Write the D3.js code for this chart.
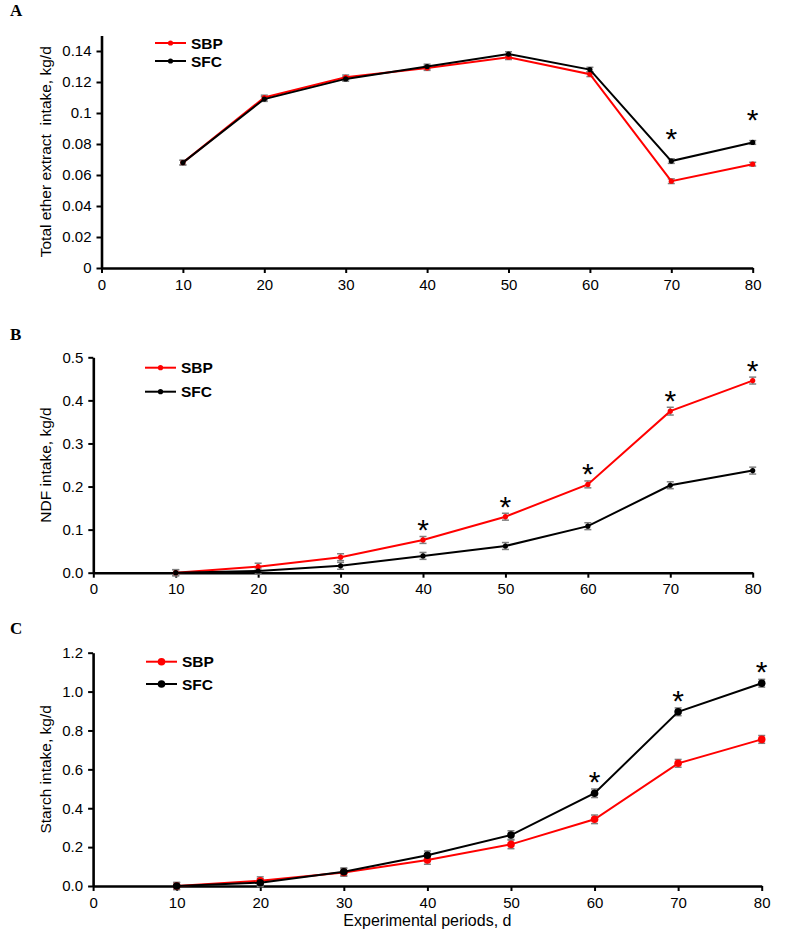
<!DOCTYPE html>
<html><head><meta charset="utf-8">
<script src="https://cdn.jsdelivr.net/npm/d3@7"></script>
<style>
body{margin:0;background:#fff;}
svg text{font-family:"Liberation Sans",Arial,sans-serif;}
</style></head>
<body><svg id="c" width="787" height="936"></svg>
<script>
const days = [10,20,30,40,50,60,70,80];
const xTicks = [0,10,20,30,40,50,60,70,80];
const seriesNames = ["SBP","SFC"];
const seriesColors = ["#ff0000","#000000"];

// Panel A: total ether extract intake
const eeSBP = [0.068,0.110,0.123,0.129,0.136,0.125,0.056,0.067];
const eeSFC = [0.068,0.109,0.122,0.130,0.138,0.128,0.069,0.081];
const eeSBPerr = [0.0015,0.0015,0.0015,0.0015,0.0015,0.0015,0.0015,0.0012];
const eeSFCerr = [0.0015,0.0015,0.0015,0.0015,0.0015,0.0015,0.0015,0.0012];
const eeTicks = [0,0.02,0.04,0.06,0.08,0.1,0.12,0.14];
const eeTickLabels = ["0","0.02","0.04","0.06","0.08","0.1","0.12","0.14"];
const eeStars = [70,80]; // above SFC

// Panel B: NDF intake
const ndfSBP = [0.000,0.014,0.036,0.076,0.130,0.205,0.375,0.446];
const ndfSFC = [0.000,0.004,0.016,0.039,0.062,0.108,0.203,0.237];
const ndfSBPerr = [0.007,0.008,0.008,0.008,0.008,0.008,0.009,0.008];
const ndfSFCerr = [0.007,0.007,0.008,0.008,0.008,0.008,0.008,0.008];
const ndfTicks = [0,0.1,0.2,0.3,0.4,0.5];
const ndfTickLabels = ["0.0","0.1","0.2","0.3","0.4","0.5"];
const ndfStars = [40,50,60,70,80]; // above SBP

// Panel C: starch intake
const stSBP = [0.000,0.027,0.070,0.134,0.214,0.343,0.631,0.754];
const stSFC = [0.000,0.017,0.073,0.158,0.262,0.477,0.896,1.043];
const stSBPerr = [0.018,0.020,0.020,0.022,0.022,0.022,0.020,0.020];
const stSFCerr = [0.018,0.020,0.020,0.022,0.022,0.022,0.020,0.020];
const stTicks = [0,0.2,0.4,0.6,0.8,1.0,1.2];
const stTickLabels = ["0.0","0.2","0.4","0.6","0.8","1.0","1.2"];
const stStars = [60,70,80]; // above SFC

const svg = d3.select("#c");

function panel(o){
  const g = svg.append("g");
  const x = d3.scaleLinear().domain([0,80]).range([o.x0,o.x1]);
  const y = d3.scaleLinear().domain([0,o.ymax]).range([o.y0,o.y1]);
  g.append("text").attr("x",10).attr("y",o.letterY).text(o.letter)
    .style("font-family","'Liberation Serif','Times New Roman',serif")
    .style("font-weight","bold").style("font-size","17px");
  const ya = d3.axisLeft(y).tickValues(o.ticks).tickFormat((d,i)=>o.tickLabels[i]).tickSize(5).tickPadding(5).tickSizeOuter(0);
  const yg = g.append("g").attr("transform",`translate(${o.x0},0)`).call(ya);
  const xa = d3.axisBottom(x).tickValues(xTicks).tickSize(5).tickPadding(6).tickSizeOuter(0);
  const xg = g.append("g").attr("transform",`translate(0,${o.y0})`).call(xa);
  [yg,xg].forEach(a=>{
    a.select(".domain").attr("stroke","#000").attr("stroke-width",2.6);
    a.selectAll(".tick line").attr("stroke","#000").attr("stroke-width",2);
    a.selectAll(".tick text").style("font-size","15px").attr("fill","#000");
  });
  g.append("text").attr("transform",`translate(${o.ylabX},${(o.y0+o.y1)/2}) rotate(-90)`)
    .attr("text-anchor","middle").style("font-size","15.5px").style("white-space","pre").attr("dy","0.35em").text(o.ylab);
  if(o.xlab){
    g.append("text").attr("x",(o.x0+o.x1)/2).attr("y",o.y0+40).attr("text-anchor","middle")
      .style("font-size","16px").text(o.xlab);
  }
  const line = d3.line().x((d,i)=>x(days[i])).y(d=>y(d));
  o.series.forEach((s,si)=>{
    const eg = g.append("g");
    s.vals.forEach((v,i)=>{
      const e = s.err[i], cx = x(days[i]);
      eg.append("line").attr("x1",cx).attr("x2",cx).attr("y1",y(v-e)).attr("y2",y(v+e)).attr("stroke","#7f7f7f").attr("stroke-width",1.5);
      [v-e,v+e].forEach(b=>eg.append("line").attr("x1",cx-3.5).attr("x2",cx+3.5).attr("y1",y(b)).attr("y2",y(b)).attr("stroke","#7f7f7f").attr("stroke-width",1.5));
    });
  });
  o.series.forEach((s,si)=>{
    g.append("path").datum(s.vals).attr("d",line).attr("fill","none").attr("stroke",seriesColors[si]).attr("stroke-width",2);
    g.selectAll(null).data(s.vals).enter().append("circle")
      .attr("cx",(d,i)=>x(days[i])).attr("cy",d=>y(d)).attr("r",o.r).attr("fill",seriesColors[si]);
  });
  const sv = o.series[o.starSeries].vals;
  o.stars.forEach(dd=>{
    const i = days.indexOf(dd);
    g.append("text").attr("x",x(dd)).attr("y",y(sv[i])-o.starOff+12).attr("text-anchor","middle")
      .style("font-size","30px").text("*");
  });
  o.series.forEach((s,si)=>{
    const ly = o.legY + si*o.legGap;
    g.append("line").attr("x1",o.legX).attr("x2",o.legX+31).attr("y1",ly).attr("y2",ly).attr("stroke",seriesColors[si]).attr("stroke-width",2);
    g.append("circle").attr("cx",o.legX+15.5).attr("cy",ly).attr("r",o.r).attr("fill",seriesColors[si]);
    g.append("text").attr("x",o.legX+36).attr("y",ly).attr("dy","0.36em").style("font-size","15.5px").style("font-weight","bold").text(seriesNames[si]);
  });
}

panel({letter:"A",letterY:16,x0:101.5,x1:752.7,y0:268,y1:35.5,ymax:0.15,ticks:eeTicks,tickLabels:eeTickLabels,
  ylab:"Total ether extract  intake, kg/d",ylabX:46,r:2.6,
  series:[{vals:eeSBP,err:eeSBPerr},{vals:eeSFC,err:eeSFCerr}],stars:eeStars,starSeries:1,starOff:24,
  legX:155,legY:43,legGap:18});
panel({letter:"B",letterY:340,x0:93.3,x1:752.7,y0:572.7,y1:357.3,ymax:0.5,ticks:ndfTicks,tickLabels:ndfTickLabels,
  ylab:"NDF intake, kg/d",ylabX:46,r:2.6,
  series:[{vals:ndfSBP,err:ndfSBPerr},{vals:ndfSFC,err:ndfSFCerr}],stars:ndfStars,starSeries:0,starOff:12,
  legX:145,legY:367.7,legGap:24});
panel({letter:"C",letterY:634,x0:93.1,x1:761.7,y0:886,y1:652.7,ymax:1.2,ticks:stTicks,tickLabels:stTickLabels,
  ylab:"Starch intake, kg/d",ylabX:46,r:3.8,xlab:"Experimental periods, d",
  series:[{vals:stSBP,err:stSBPerr},{vals:stSFC,err:stSFCerr}],stars:stStars,starSeries:1,starOff:13,
  legX:146,legY:661.7,legGap:22.3});
</script></body></html>
